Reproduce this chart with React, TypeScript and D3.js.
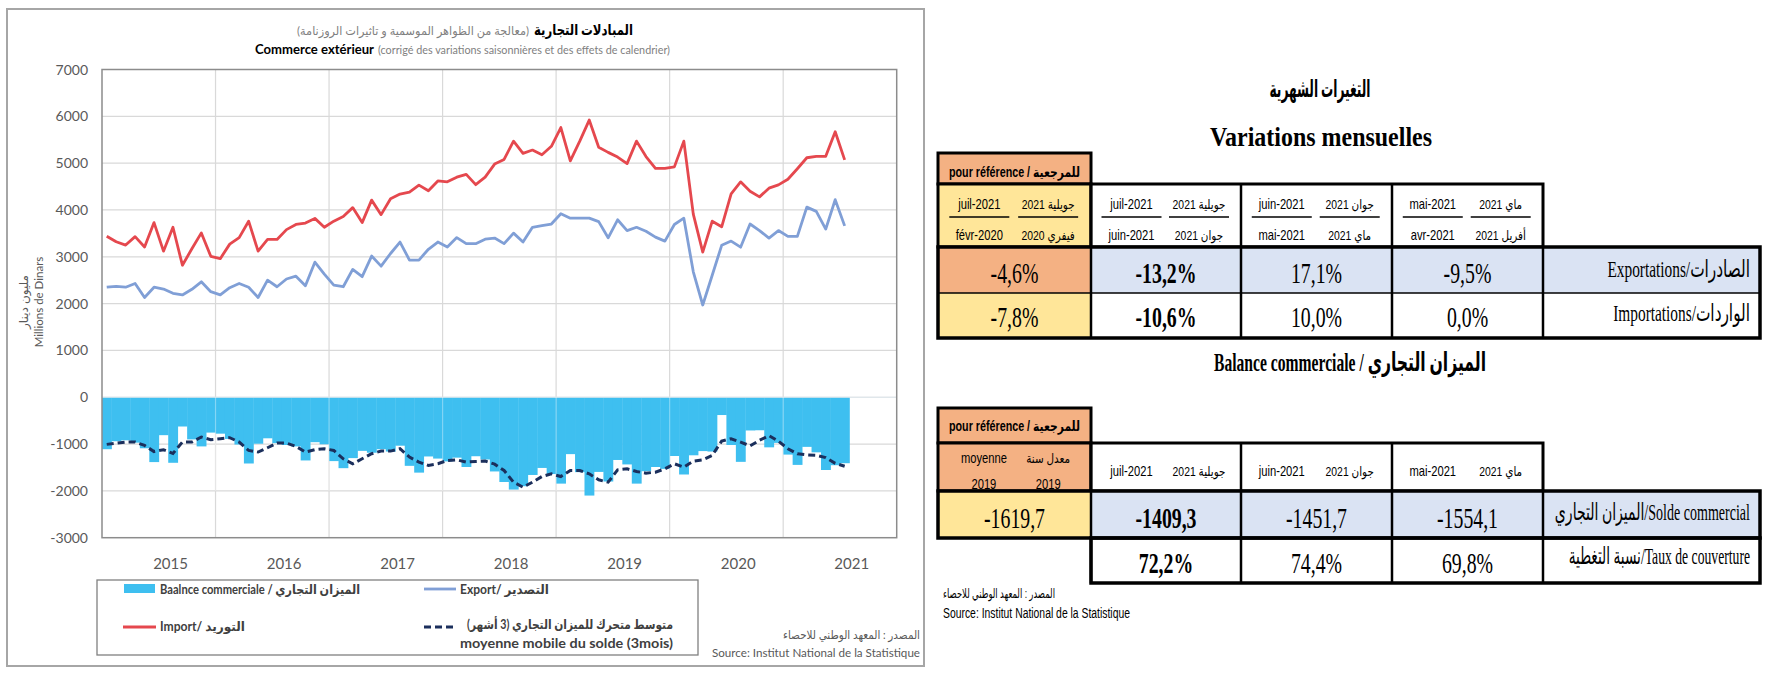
import React from "react";
import * as d3 from "d3";

// ---------- chart data (monthly, Jan 2015 .. Jul 2021) ----------
const years = ["2015", "2016", "2017", "2018", "2019", "2020", "2021"];
const exportVals = [
  2350, 2370, 2350, 2430, 2130, 2350, 2310, 2220, 2185, 2305, 2465, 2255,
  2185, 2340, 2430, 2350, 2130, 2500, 2360, 2525, 2585, 2380, 2885, 2630,
  2395, 2360, 2730, 2575, 3015, 2800, 3070, 3315, 2930, 2930, 3160, 3315,
  3210, 3410, 3280, 3280, 3375, 3400, 3280, 3505, 3315, 3630, 3665, 3700,
  3920, 3825, 3825, 3825, 3750, 3405, 3790, 3560, 3630, 3545, 3420, 3335,
  3690, 3825, 2680, 1970, 2605, 3245, 3335, 3205, 3700, 3560, 3400, 3560,
  3435, 3435, 4060, 3970, 3592, 4219, 3660,
];
const importVals = [
  3440, 3320, 3250, 3430, 3210, 3730, 3120, 3630, 2820, 3170, 3510, 3010,
  2960, 3270, 3410, 3760, 3120, 3370, 3370, 3580, 3690, 3720, 3820, 3630,
  3760, 3860, 4050, 3730, 4210, 3900, 4240, 4340, 4380, 4530, 4410, 4620,
  4600, 4700, 4760, 4540, 4700, 4980, 5080, 5470, 5210, 5280, 5180, 5360,
  5760, 5050, 5470, 5920, 5340, 5230, 5130, 4990, 5470, 5140, 4890, 4890,
  4920, 5470, 3910, 3100, 3760, 3640, 4345, 4600, 4400, 4280, 4465, 4535,
  4655, 4880, 5115, 5146, 5146, 5671, 5069,
];
const balanceVals = [
  -1110, -940, -920, -970, -1090, -1385, -810, -1400, -625, -900, -1050, -755,
  -778, -890, -1010, -1415, -993, -877, -980, -1020, -1050, -1350, -960, -1005,
  -1364, -1515, -1300, -1145, -1185, -1110, -1160, -1035, -1465, -1610, -1265, -1310,
  -1370, -1290, -1490, -1260, -1330, -1585, -1810, -1972, -1900, -1660, -1510, -1640,
  -1845, -1215, -1600, -2100, -1595, -1800, -1340, -1435, -1845, -1580, -1490, -1530,
  -1255, -1650, -1240, -1150, -1160, -380, -1020, -1380, -710, -705, -1070, -975,
  -1225, -1445, -1060, -1177, -1554, -1452, -1409,
];
const movingAvgVals = [
  -1007, -980, -957, -957, -1029, -1160, -1121, -1200, -957, -957, -850, -907,
  -886, -864, -957, -1136, -1171, -1079, -979, -979, -1050, -1171, -1121, -1100,
  -1136, -1314, -1421, -1314, -1207, -1150, -1150, -1100, -1279, -1386, -1457, -1421,
  -1350, -1336, -1386, -1371, -1364, -1430, -1564, -1814, -1921, -1814, -1693, -1636,
  -1693, -1564, -1564, -1636, -1764, -1814, -1550, -1529, -1586, -1621, -1600, -1529,
  -1421, -1493, -1364, -1336, -1243, -936, -886, -957, -1040, -920, -820, -940,
  -1100, -1207, -1230, -1240, -1290, -1410, -1475,
];
const yTickVals = [7000, 6000, 5000, 4000, 3000, 2000, 1000, 0, -1000, -2000, -3000];

// ---------- table data ----------
const refLabel = "pour référence / للمرجعية";
const monthlyFr = [
  ["juil-2021", "févr-2020"],
  ["juil-2021", "juin-2021"],
  ["juin-2021", "mai-2021"],
  ["mai-2021", "avr-2021"],
];
const monthlyAr = [
  ["جويلية 2021", "فيفري 2020"],
  ["جويلية 2021", "جوان 2021"],
  ["جوان 2021", "ماي 2021"],
  ["ماي 2021", "أفريل 2021"],
];
const exportChanges = ["-4,6%", "-13,2%", "17,1%", "-9,5%"];
const importChanges = ["-7,8%", "-10,6%", "10,0%", "0,0%"];
const balanceFr = ["juil-2021", "juin-2021", "mai-2021"];
const balanceAr = ["جويلية 2021", "جوان 2021", "ماي 2021"];
const refAvgFr = ["moyenne", "2019"];
const refAvgAr = ["معدل سنة", "2019"];
const soldeVals = ["-1619,7", "-1409,3", "-1451,7", "-1554,1"];
const tauxVals = ["72,2%", "74,4%", "69,8%"];
const rowLabels = [
  "Exportations/الصادرات",
  "Importations/الواردات",
  "الميزان التجاري/Solde commercial",
  "نسبة التغطية/Taux de couverture",
];

const SANS = "Lato, 'DejaVu Sans', sans-serif";
const SERIF = "'Liberation Serif', 'DejaVu Sans', serif";
const NARROW = "'Liberation Sans', 'DejaVu Sans', sans-serif";
const BAR = "#3ebff0";
const EXP = "#809fd6";
const IMP = "#e5484e";
const MAC = "#1b2f5c";
const GRAY = "#595959";
const ORANGE = "#f4b183";
const YELLOW = "#ffe699";
const LBLUE = "#dae3f3";

type TP = {
  x: number; y: number; s?: number; sx?: number; a?: "start" | "middle" | "end";
  b?: boolean; f?: string; c?: string; len?: number; children: React.ReactNode;
};
const T = ({ x, y, s = 14, sx = 1, a = "middle", b = false, f = SERIF, c = "#000", len, children }: TP) => (
  <text
    transform={`translate(${x},${y}) scale(${sx},1)`}
    textAnchor={a}
    fontSize={s}
    fontWeight={b ? 700 : 400}
    fontFamily={f}
    fill={c}
    {...(len ? { textLength: len / sx, lengthAdjust: "spacingAndGlyphs" } : {})}
  >
    {children}
  </text>
);

export default function App() {
  // ---------------- chart ----------------
  const L = 102, R = 896.7, TOP = 69.5, BOT = 537.7;
  const nSlots = years.length * 12;
  const x = d3.scaleBand<number>().domain(d3.range(nSlots)).range([L, R]).padding(0);
  const xYear = d3.scaleBand<string>().domain(years).range([L, R]).padding(0);
  const y = d3.scaleLinear().domain([-3000, 7000]).range([BOT, TOP]);
  const bw = x.bandwidth();
  const cx = (i: number) => (x(i) as number) + bw / 2;
  const line = d3.line<number>().x((_, i) => cx(i)).y((d) => y(d));
  const yearBounds = years.slice(1).map((yr) => xYear(yr) as number);

  // ---------------- table ----------------
  const C = [938, 1091, 1241, 1392, 1543, 1760];
  const cc = (k: number) => (C[k] + C[k + 1]) / 2;
  const sub = (k: number, f: number) => C[k] + (C[k + 1] - C[k]) * f;
  const S1 = { refT: 153, refB: 184, hB: 247, r1: 293, r2: 338 };
  const S2 = { refT: 408, refB: 443, hB: 491, r1: 538, r2: 583 };
  const valS = 30, valSx = 0.66;
  const labX = 1750;
  const labSx = [0.64, 0.64, 0.585, 0.57];

  return (
    <svg width={1765} height={675} style={{ position: "absolute", left: 0, top: 0, display: "block", background: "#fff" }}>
      {/* ============ LEFT: chart ============ */}
      <rect x={7} y={9} width={917} height={657} fill="#fff" stroke="#a6a6a6" strokeWidth={2} />

      {/* titles */}
      <T x={633} y={35} s={15} b a="end" f={SANS} len={99}>المبادلات التجارية</T>
      <T x={529} y={35} s={12} a="end" f={SANS} c="#7f7f7f" len={232}>(معالجة من الظواهر الموسمية و تاثيرات الروزنامة)</T>
      <T x={255} y={54} s={13} b a="start" f={SANS} len={119}>Commerce extérieur</T>
      <T x={378} y={54} s={11} a="start" f={SANS} c="#7f7f7f" len={292}>(corrigé des variations saisonnières et des effets de calendrier)</T>

      {/* grid */}
      {yTickVals.filter((v) => v !== 7000 && v !== -3000).map((v) => (
        <line key={"g" + v} x1={L} x2={R} y1={y(v)} y2={y(v)} stroke="#d9d9d9" strokeWidth={1.2} />
      ))}
      {yearBounds.map((bx) => (
        <line key={"v" + bx} x1={bx} x2={bx} y1={TOP} y2={BOT} stroke="#d9d9d9" strokeWidth={1.2} />
      ))}

      {/* bars */}
      {balanceVals.map((v, i) => (
        <rect key={"b" + i} x={x(i)} width={bw + 0.4} y={y(0)} height={y(v) - y(0)} fill={BAR} />
      ))}
      <line x1={L} x2={R} y1={y(0)} y2={y(0)} stroke="#dfe8ee" strokeWidth={1.2} />
      {yearBounds.map((bx) => (
        <line key={"vo" + bx} x1={bx} x2={bx} y1={y(0)} y2={y(-2000)} stroke="#ffffff" strokeOpacity={0.35} strokeWidth={1.2} />
      ))}

      {/* lines */}
      <path d={line(movingAvgVals) || ""} fill="none" stroke={MAC} strokeWidth={3} strokeDasharray="7 4" />
      <path d={line(exportVals) || ""} fill="none" stroke={EXP} strokeWidth={2.8} strokeLinejoin="round" />
      <path d={line(importVals) || ""} fill="none" stroke={IMP} strokeWidth={2.8} strokeLinejoin="round" />

      {/* plot border */}
      <rect x={L} y={TOP} width={R - L} height={BOT - TOP} fill="none" stroke="#8c8c8c" strokeWidth={1.5} />

      {/* axes labels */}
      {yTickVals.map((v) => (
        <text key={"yt" + v} x={88} y={y(v)} dy="0.36em" textAnchor="end" fontSize={14} fontFamily={SANS} fill={GRAY}>
          {v}
        </text>
      ))}
      {years.map((yr) => (
        <text key={"yr" + yr} x={(xYear(yr) as number) + xYear.bandwidth() * 0.604} y={569} textAnchor="middle" fontSize={15} fontFamily={SANS} fill={GRAY}>
          {yr}
        </text>
      ))}
      <text transform="translate(28,302) rotate(-90)" textAnchor="middle" fontSize={12} fontFamily={SANS} fill={GRAY}>مليون دينار</text>
      <text transform="translate(43,302) rotate(-90)" textAnchor="middle" fontSize={11.5} fontFamily={SANS} fill={GRAY}>Millions de Dinars</text>

      {/* legend */}
      <rect x={97} y={580} width={601} height={75} fill="none" stroke="#808080" strokeWidth={1.3} />
      <rect x={124} y={584} width={31} height={9} fill={BAR} />
      <T x={160} y={594} s={13} b a="start" f={SANS} c="#404040" len={200}>Baalnce commerciale / الميزان التجاري</T>
      <line x1={424} x2={456} y1={589} y2={589} stroke={EXP} strokeWidth={2.8} />
      <T x={460} y={594} s={13} b a="start" f={SANS} c="#404040" len={89}>Export/ التصدير</T>
      <line x1={123} x2={156} y1={627} y2={627} stroke={IMP} strokeWidth={2.8} />
      <T x={160} y={631} s={13} b a="start" f={SANS} c="#404040" len={85}>Import/ التوريد</T>
      <line x1={424} x2={457} y1={627} y2={627} stroke={MAC} strokeWidth={3} strokeDasharray="7 4" />
      <T x={673} y={629} s={13} b a="end" f={SANS} c="#404040" len={206}>{"\u202Bمتوسط متحرك للميزان التجاري (3 أشهر)\u202C"}</T>
      <T x={673} y={648} s={13} b a="end" f={SANS} c="#404040" len={213}>moyenne mobile du solde (3mois)</T>

      {/* source */}
      <T x={920} y={639} s={12} a="end" f={SANS} c={GRAY} len={137}>المصدر : المعهد الوطني للاحصاء</T>
      <T x={920} y={657} s={12} a="end" f={SANS} c={GRAY} len={208}>Source: Institut National de la Statistique</T>

      {/* ============ RIGHT: tables ============ */}
      <T x={1320} y={97} s={24} b len={101}>التغيرات الشهرية</T>
      <T x={1321} y={146} s={28} b len={222}>Variations mensuelles</T>

      {/* section 1 cells */}
      <rect x={C[0]} y={S1.refT} width={C[1] - C[0]} height={S1.refB - S1.refT} fill={ORANGE} stroke="#000" strokeWidth={3} />
      <rect x={C[0]} y={S1.refB} width={C[1] - C[0]} height={S1.hB - S1.refB} fill={YELLOW} stroke="#000" strokeWidth={3} />
      <rect x={C[1]} y={S1.refB} width={C[4] - C[1]} height={S1.hB - S1.refB} fill="#fff" stroke="#000" strokeWidth={3} />
      <rect x={C[0]} y={S1.hB} width={C[1] - C[0]} height={S1.r1 - S1.hB} fill={ORANGE} />
      <rect x={C[1]} y={S1.hB} width={C[5] - C[1]} height={S1.r1 - S1.hB} fill={LBLUE} />
      <rect x={C[0]} y={S1.r1} width={C[1] - C[0]} height={S1.r2 - S1.r1} fill={YELLOW} />
      <line x1={C[0]} x2={C[5]} y1={S1.r1} y2={S1.r1} stroke="#000" strokeWidth={1.5} />
      {[1, 2, 3, 4].map((k) => (
        <line key={"s1v" + k} x1={C[k]} x2={C[k]} y1={k < 4 ? S1.refB : S1.hB} y2={S1.r2} stroke="#000" strokeWidth={2.5} />
      ))}
      <rect x={C[0]} y={S1.hB} width={C[5] - C[0]} height={S1.r2 - S1.hB} fill="none" stroke="#000" strokeWidth={3.5} />

      <T x={cc(0)} y={177} s={14} b f={NARROW} len={131}>{refLabel}</T>
      {monthlyFr.map((pair, k) => (
        <g key={"mh" + k}>
          <T x={sub(k, 0.27)} y={209} s={14} f={NARROW} sx={0.8}>{pair[0]}</T>
          <T x={sub(k, 0.27)} y={240} s={14} f={NARROW} sx={0.8}>{pair[1]}</T>
          <T x={sub(k, 0.72)} y={209} s={13} f={NARROW} sx={0.8}>{monthlyAr[k][0]}</T>
          <T x={sub(k, 0.72)} y={240} s={13} f={NARROW} sx={0.8}>{monthlyAr[k][1]}</T>
          <line x1={sub(k, 0.27) - 30} x2={sub(k, 0.27) + 30} y1={217} y2={217} stroke="#000" strokeWidth={1.5} />
          <line x1={sub(k, 0.72) - 30} x2={sub(k, 0.72) + 30} y1={217} y2={217} stroke="#000" strokeWidth={1.5} />
        </g>
      ))}
      {exportChanges.map((v, k) => (
        <T key={"ev" + k} x={cc(k)} y={283} s={valS} sx={valSx} b={k === 1}>{v}</T>
      ))}
      {importChanges.map((v, k) => (
        <T key={"iv" + k} x={cc(k)} y={327} s={valS} sx={valSx} b={k === 1}>{v}</T>
      ))}
      <T x={labX} y={277} s={24} a="end" sx={labSx[0]}>{rowLabels[0]}</T>
      <T x={labX} y={321} s={24} a="end" sx={labSx[1]}>{rowLabels[1]}</T>

      {/* section 2 */}
      <T x={1350} y={371} s={26} b len={272}>Balance commerciale / الميزان التجاري</T>
      <rect x={C[0]} y={S2.refT} width={C[1] - C[0]} height={S2.refB - S2.refT} fill={ORANGE} stroke="#000" strokeWidth={3} />
      <rect x={C[0]} y={S2.refB} width={C[1] - C[0]} height={S2.hB - S2.refB} fill={ORANGE} stroke="#000" strokeWidth={3} />
      <rect x={C[1]} y={S2.refB} width={C[4] - C[1]} height={S2.hB - S2.refB} fill="#fff" stroke="#000" strokeWidth={3} />
      <rect x={C[0]} y={S2.hB} width={C[1] - C[0]} height={S2.r1 - S2.hB} fill={YELLOW} />
      <rect x={C[1]} y={S2.hB} width={C[5] - C[1]} height={S2.r1 - S2.hB} fill={LBLUE} />
      <rect x={C[1]} y={S2.r1} width={C[5] - C[1]} height={S2.r2 - S2.r1} fill="#fff" stroke="#000" strokeWidth={3.5} />
      {[1, 2, 3, 4].map((k) => (
        <line key={"s2v" + k} x1={C[k]} x2={C[k]} y1={k < 4 ? S2.refB : S2.hB} y2={S2.r2} stroke="#000" strokeWidth={2.5} />
      ))}
      <rect x={C[0]} y={S2.hB} width={C[5] - C[0]} height={S2.r1 - S2.hB} fill="none" stroke="#000" strokeWidth={3.5} />

      <T x={cc(0)} y={431} s={14} b f={NARROW} len={131}>{refLabel}</T>
      <T x={sub(0, 0.3)} y={463} s={14} f={NARROW} sx={0.8}>{refAvgFr[0]}</T>
      <T x={sub(0, 0.3)} y={489} s={14} f={NARROW} sx={0.8}>{refAvgFr[1]}</T>
      <T x={sub(0, 0.72)} y={463} s={13} f={NARROW} sx={0.8}>{refAvgAr[0]}</T>
      <T x={sub(0, 0.72)} y={489} s={14} f={NARROW} sx={0.8}>{refAvgAr[1]}</T>
      {balanceFr.map((m, j) => (
        <g key={"bh" + j}>
          <T x={sub(j + 1, 0.27)} y={476} s={14} f={NARROW} sx={0.8}>{m}</T>
          <T x={sub(j + 1, 0.72)} y={476} s={13} f={NARROW} sx={0.8}>{balanceAr[j]}</T>
        </g>
      ))}
      {soldeVals.map((v, k) => (
        <T key={"sv" + k} x={cc(k)} y={528} s={valS} sx={valSx} b={k === 1}>{v}</T>
      ))}
      {tauxVals.map((v, j) => (
        <T key={"tv" + j} x={cc(j + 1)} y={573} s={valS} sx={valSx} b={j === 0}>{v}</T>
      ))}
      <T x={labX} y={520} s={24} a="end" sx={labSx[2]}>{rowLabels[2]}</T>
      <T x={labX} y={564} s={24} a="end" sx={labSx[3]}>{rowLabels[3]}</T>

      <T x={943} y={598} s={13} a="start" f={NARROW} len={112}>المصدر : المعهد الوطني للاحصاء</T>
      <T x={943} y={618} s={14} a="start" f={NARROW} len={187}>Source: Institut National de la Statistique</T>
    </svg>
  );
}
